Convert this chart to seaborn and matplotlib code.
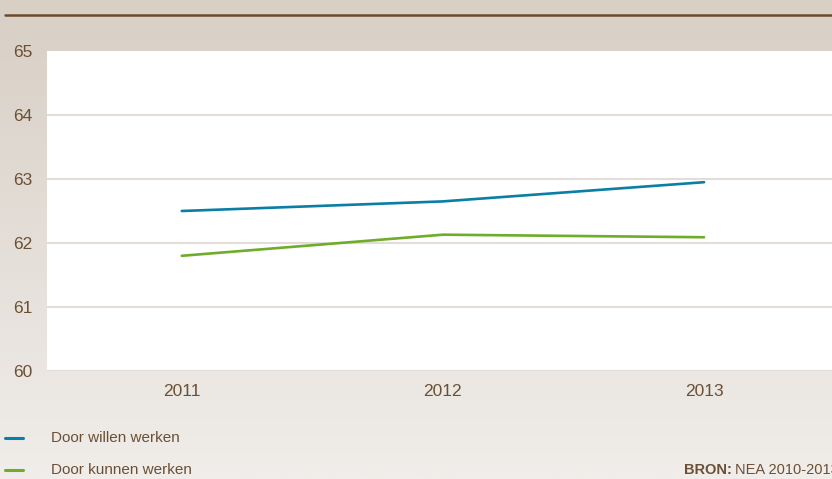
import numpy as np
import pandas as pd
import matplotlib
matplotlib.use("Agg")
import matplotlib.pyplot as plt
import seaborn as sns
from matplotlib.lines import Line2D

years = ["2011", "2012", "2013"]
willen = [62.5, 62.65, 62.95]
kunnen = [61.8, 62.13, 62.09]
series_names = ["Door willen werken", "Door kunnen werken"]
colors = ["#0a7ea4", "#6fac2a"]
y_ticks = [60, 61, 62, 63, 64, 65]

df = pd.DataFrame({
    "jaar": years * 2,
    "waarde": willen + kunnen,
    "reeks": [series_names[0]] * 3 + [series_names[1]] * 3,
})

sns.set_style("white")
txt = "#6b5035"
plt.rcParams['font.family'] = ['Liberation Sans', 'DejaVu Sans']

W, H = 832, 479
fig = plt.figure(figsize=(W / 100, H / 100), dpi=100)

# background gradient
bg = fig.add_axes([0, 0, 1, 1], zorder=-10)
top = np.array([0xd8, 0xcf, 0xc5]) / 255
bot = np.array([0xf0, 0xed, 0xea]) / 255
t = np.linspace(0, 1, 256)[:, None]
grad = top[None, :] * (1 - t) + bot[None, :] * t
bg.imshow(grad[:, None, :].repeat(2, axis=1), aspect="auto", extent=[0, 1, 0, 1])
bg.set_axis_off()

# top rule
fig.add_artist(Line2D([5 / W, 1], [1 - 15 / H, 1 - 15 / H], color="#6b4c2a", lw=1.8))

ax = fig.add_axes([47 / W, 1 - 371 / H, (832 - 47) / W, (371 - 51) / H])
ax.set_facecolor("white")
sns.lineplot(data=df, x="jaar", y="waarde", hue="reeks", palette=colors,
             linewidth=1.9, ax=ax, legend=False, sort=False)
ax.set_xlim(-0.516, 2.49)
ax.set_ylim(60, 65)
ax.set_yticks(y_ticks)
ax.set_yticklabels([str(v) for v in y_ticks])
for v in y_ticks[:-1]:
    ax.axhline(v, color="#e2ddd8", lw=1.5, zorder=0)
for s in ax.spines.values():
    s.set_visible(False)
ax.set_xlabel("")
ax.set_ylabel("")
ax.tick_params(axis="y", length=0, pad=10.5, labelsize=12.5, labelcolor=txt)
ax.tick_params(axis="x", length=0, pad=9, labelsize=12.5, labelcolor=txt)

# legend
for i, (name, c) in enumerate(zip(series_names, colors)):
    y = 1 - (438 + 32 * i) / H
    fig.add_artist(Line2D([5 / W, 23 / W], [y, y], color=c, lw=2.2))
    fig.text(51 / W, y, name, color=txt, fontsize=11, va="center", ha="left")

bron = fig.text(684 / W, 1 - 470 / H, "BRON:", color=txt, fontsize=10.5, va="center",
                ha="left", fontweight="bold")
fig.canvas.draw()
bb = bron.get_window_extent(renderer=fig.canvas.get_renderer())
fig.text((bb.x1 + 3) / W, 1 - 470 / H, "NEA 2010-2013", color=txt, fontsize=10.5,
         va="center", ha="left")

fig.savefig("out.png", dpi=100)
